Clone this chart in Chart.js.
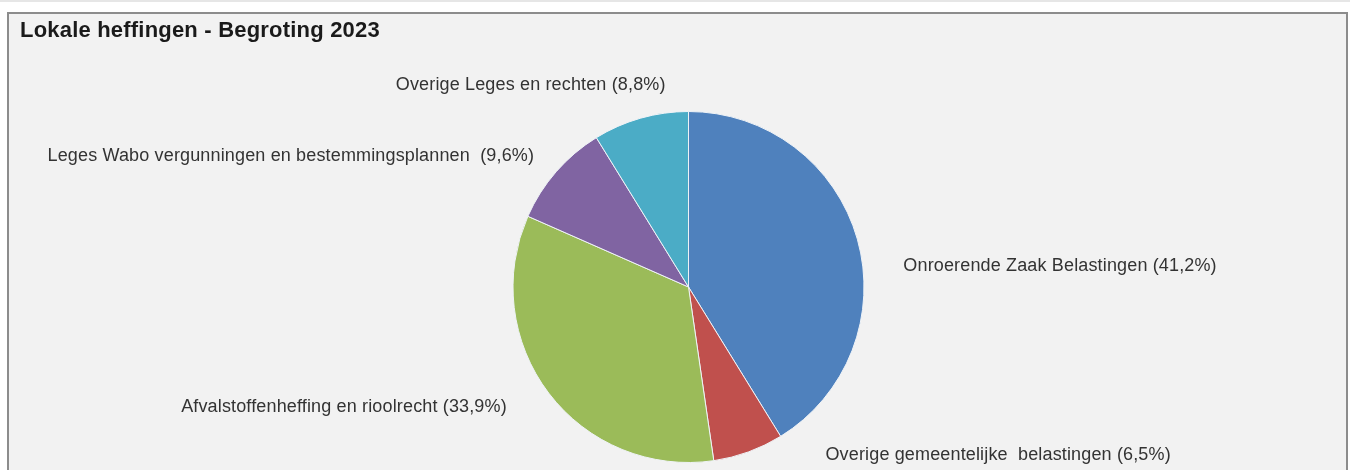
<!DOCTYPE html>
<html>
<head>
<meta charset="utf-8">
<script src="https://cdn.jsdelivr.net/npm/chart.js@4"></script>
<style>
  html, body { margin: 0; padding: 0; background: #fff; }
  body { width: 1350px; height: 470px; overflow: hidden; border-top: 2px solid #e6e6e6; box-sizing: border-box; }
  #frame {
    position: absolute; left: 7px; top: 12px;
    width: 1337px; height: 470px;
    border: 2px solid #8c8c8c; border-bottom: none;
    background: #f2f2f2;
  }
  #chart { display: block; }
</style>
</head>
<body>
<div id="frame"><canvas id="chart" width="1337" height="456"></canvas></div>
<script>
const TITLE = "Lokale heffingen - Begroting 2023";
const categories = [
  "Onroerende Zaak Belastingen",
  "Overige gemeentelijke  belastingen",
  "Afvalstoffenheffing en rioolrecht",
  "Leges Wabo vergunningen en bestemmingsplannen ",
  "Overige Leges en rechten",
];
const shares = [41.2, 6.5, 33.9, 9.6, 8.8];
const colors = ["#4f81bd", "#c0504d", "#9bbb59", "#8064a2", "#4bacc6"];

// label placement relative to the outer midpoint of each slice
const labelOffsets = [
  { dx: 46, dy: 27, align: "left" },
  { dx: 77, dy: 3, align: "left" },
  { dx: -42, dy: 14, align: "right" },
  { dx: -22, dy: -16, align: "right" },
  { dx: 25, dy: -33, align: "right" },
];

const fmt = (v) => v.toFixed(1).replace(".", ",") + "%";

const pieLabels = {
  id: "pieLabels",
  afterDraw(chart) {
    const ctx = chart.ctx;
    ctx.save();
    ctx.fillStyle = "#1a1a1a";
    ctx.font = "bold 22px 'Liberation Sans', Arial, sans-serif";
    ctx.letterSpacing = "0.2px";
    ctx.textAlign = "left";
    ctx.textBaseline = "alphabetic";
    ctx.fillText(TITLE, 11, 23);

    ctx.fillStyle = "#333";
    ctx.font = "18px 'Liberation Sans', Arial, sans-serif";
    ctx.letterSpacing = "0.15px";
    ctx.textBaseline = "middle";
    const meta = chart.getDatasetMeta(0);
    meta.data.forEach((arc, i) => {
      const p = arc.getProps(["x", "y", "startAngle", "endAngle", "outerRadius"], true);
      const mid = (p.startAngle + p.endAngle) / 2;
      const ex = p.x + Math.cos(mid) * p.outerRadius;
      const ey = p.y + Math.sin(mid) * p.outerRadius;
      const o = labelOffsets[i];
      ctx.textAlign = o.align;
      ctx.fillText(categories[i] + " (" + fmt(shares[i]) + ")", ex + o.dx, ey + o.dy);
    });
    ctx.restore();
  },
};

new Chart(document.getElementById("chart"), {
  type: "pie",
  data: {
    labels: categories,
    datasets: [{
      data: shares,
      backgroundColor: colors,
      borderColor: "#eef2f6",
      borderWidth: 1,
    }],
  },
  options: {
    responsive: false,
    animation: false,
    layout: { padding: { left: 200, right: 178, top: 97, bottom: 7 } },
    plugins: {
      legend: { display: false },
      tooltip: { enabled: false },
    },
  },
  plugins: [pieLabels],
});
</script>
</body>
</html>
